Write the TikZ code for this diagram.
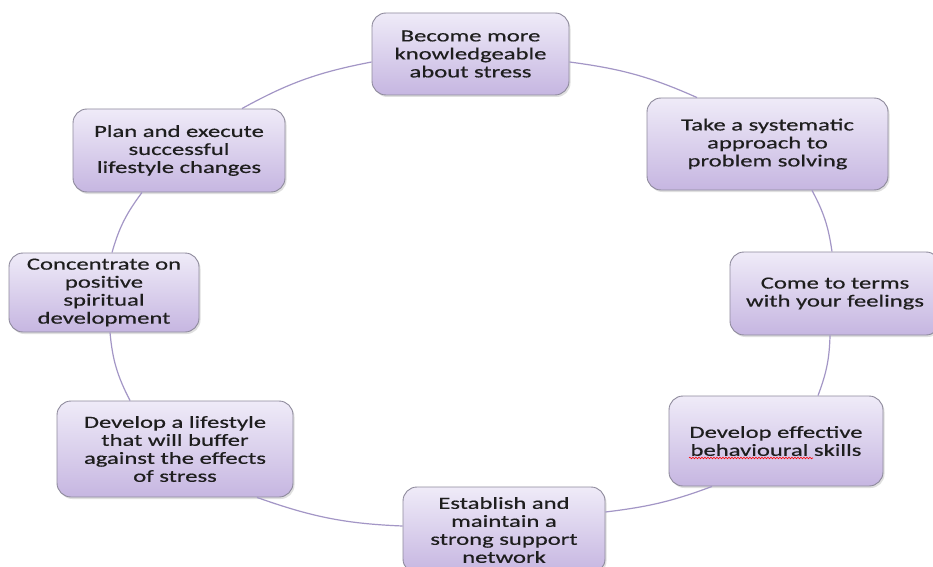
\documentclass[tikz,border=0pt]{standalone}
\usepackage{fontspec}
\setmainfont{Carlito}[FakeStretch=1.45,FakeBold=0.5]
\usetikzlibrary{shadows,decorations.pathmorphing}
\definecolor{boxtop}{HTML}{EFEBF8}
\definecolor{boxbot}{HTML}{C6B6E1}
\definecolor{boxline}{HTML}{8E8A9C}
\definecolor{linkcol}{HTML}{A396C6}
\definecolor{txt}{HTML}{1E1E1E}
\tikzset{
  stepbox/.style={rectangle, rounded corners=14pt, draw=boxline, line width=0.9pt,
    top color=boxtop, bottom color=boxbot, align=center, inner sep=0pt,
    text=txt, font=\fontsize{17pt}{18pt}\selectfont,
    drop shadow={shadow xshift=1.5pt, shadow yshift=-2pt, opacity=0.25}},
  link/.style={draw=linkcol, line width=1.2pt}
}
\begin{document}
\begin{tikzpicture}[x=1pt,y=1pt]
\fill[white] (0,0) rectangle (933,566);
\useasboundingbox (0,0) rectangle (933,566);
\node[stepbox, minimum width=197pt, minimum height=82pt] (n1) at (470.5,512) {Become more\\knowledgeable\\about stress};
\node[stepbox, minimum width=241pt, minimum height=92pt] (n2) at (767.5,422) {Take a systematic\\approach to\\problem solving};
\node[stepbox, minimum width=210pt, minimum height=83pt] (n3) at (835,272.5) {Come to terms\\with your feelings};
\node[stepbox, minimum width=214pt, minimum height=90pt] (n4) at (776,125) {Develop effective\\behavioural skills};
\node[stepbox, minimum width=202pt, minimum height=86pt] (n5) at (504,36) {Establish and\\maintain a\\strong support\\network};
\node[stepbox, minimum width=236pt, minimum height=96pt] (n6) at (175,117) {Develop a lifestyle\\that will buffer\\against the effects\\of stress};
\node[stepbox, minimum width=190pt, minimum height=79pt] (n7) at (104,273.5) {Concentrate on\\positive\\spiritual\\development};
\node[stepbox, minimum width=212pt, minimum height=83pt] (n8) at (179,415.5) {Plan and execute\\successful\\lifestyle changes};
\draw[link] ([yshift=-8pt]n1.east) to[out=-7.5,in=156] ([xshift=-70.5pt]n2.north);
\draw[link] ([xshift=44.5pt]n2.south) to[out=-61.6,in=98.4] ([xshift=-3pt]n3.north);
\draw[link] ([xshift=-5pt]n3.south) to[out=-91.5,in=69.5] ([xshift=42pt]n4.north);
\draw[link] ([xshift=-64pt]n4.south) to[out=-159.5,in=6.9] ([yshift=18pt]n5.east);
\draw[link] ([yshift=4pt]n5.west) to[out=177.7,in=-19.5] ([xshift=82pt]n6.south);
\draw[link] ([xshift=-45pt]n6.north) to[out=117.2,in=-84.8] ([xshift=6pt]n7.south);
\draw[link] ([xshift=8pt]n7.north) to[out=74.2,in=-126.6] ([xshift=-37pt]n8.south);
\draw[link] ([xshift=63pt]n8.north) to[out=28.9,in=-169.1] ([yshift=-8pt]n1.west);
\draw[red, line width=0.6pt, decorate, decoration={snake, amplitude=0.8pt, segment length=3pt}]
  ([xshift=-87pt,yshift=-17pt]n4.center) -- ([xshift=37pt,yshift=-17pt]n4.center);
\end{tikzpicture}
\end{document}
